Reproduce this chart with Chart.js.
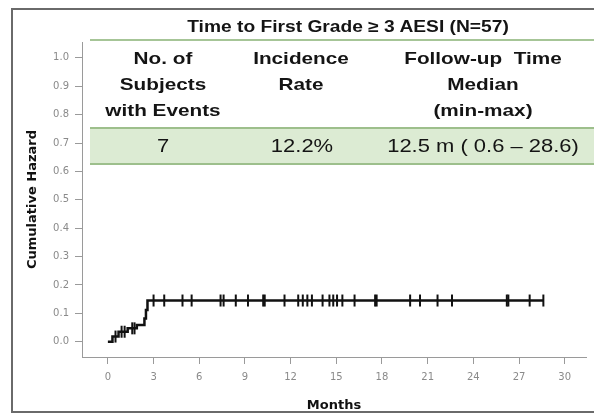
<!DOCTYPE html>
<html>
<head>
<meta charset="utf-8">
<script src="https://cdn.jsdelivr.net/npm/chart.js@4.4.0/dist/chart.umd.min.js"></script>
<style>
  html, body { margin: 0; padding: 0; background: #fff; }
  #wrap { position: relative; width: 594px; height: 414px; overflow: hidden; }
  #frame { position: absolute; left: 11px; top: 8px; width: 600px; height: 405px; box-sizing: border-box; border: 2px solid #6a6a6a; }
  canvas { position: absolute; left: 0; top: 0; }
  .cell { position: absolute; width: 300px; margin-left: -150px; text-align: center; white-space: nowrap;
          font-family: "Liberation Sans", Arial, sans-serif; color: #141414; transform: scaleX(1.22); transform-origin: center; }
  .head { font-weight: bold; font-size: 17px; line-height: 26px; top: 46px; }
  .val { font-size: 18px; line-height: 36px; top: 128px; }
  #title { font-weight: bold; font-size: 16px; line-height: 20px; top: 17px; left: 348px; transform: scaleX(1.2); }
  #topline { position: absolute; left: 90px; top: 39px; width: 510px; height: 2px; background: #a6c597; }
  #band { position: absolute; left: 90px; top: 127px; width: 510px; height: 38px; box-sizing: border-box;
          background: #dcebd3; border-top: 2px solid #9dbf8c; border-bottom: 2px solid #9dbf8c; }
</style>
</head>
<body>
<div id="wrap">
  <canvas id="km" width="594" height="414"></canvas>
  <div id="frame"></div>
  <div id="topline"></div>
  <div id="band"></div>
  <div class="cell" id="title">Time to First Grade ≥ 3 AESI (N=57)</div>
  <div class="cell head" style="left:163px">No. of<br>Subjects<br>with Events</div>
  <div class="cell head" style="left:301px">Incidence<br>Rate</div>
  <div class="cell head" style="left:483px">Follow-up&nbsp; Time<br>Median<br>(min-max)</div>
  <div class="cell val" style="left:163px">7</div>
  <div class="cell val" style="left:302px">12.2%</div>
  <div class="cell val" style="left:483px">12.5 m ( 0.6 – 28.6)</div>
</div>
<script>
// step curve: event times (months) and cumulative hazard after each event
const eventTimes = [0, 0.3, 0.7, 1.3, 1.9, 2.4, 2.5, 2.6];
const hazard = [0, 0.018, 0.035, 0.047, 0.059, 0.082, 0.112, 0.145];
const lastFollowUp = 28.6;

// censored subjects (tick marks on the curve)
const censorTimes = [0.5, 0.9, 1.1, 1.6, 1.75,
    3.0, 3.7, 4.9, 5.5, 7.4, 7.6, 8.4, 9.2, 10.2, 10.3, 11.6,
    12.5, 12.8, 13.1, 13.4, 14.1, 14.55, 14.8, 15.05, 15.4, 16.2,
    17.55, 17.65, 19.85, 20.5, 21.65, 22.6, 26.2, 26.3, 27.7, 28.6];
const censorLevels = [0.018, 0.035, 0.035, 0.047, 0.047,
    0.145, 0.145, 0.145, 0.145, 0.145, 0.145, 0.145, 0.145, 0.145, 0.145, 0.145,
    0.145, 0.145, 0.145, 0.145, 0.145, 0.145, 0.145, 0.145, 0.145, 0.145,
    0.145, 0.145, 0.145, 0.145, 0.145, 0.145, 0.145, 0.145, 0.145, 0.145];

const xTicks = [0, 3, 6, 9, 12, 15, 18, 21, 24, 27, 30];
const yTicks = [0, 0.1, 0.2, 0.3, 0.4, 0.5, 0.6, 0.7, 0.8, 0.9, 1.0];

let curve = eventTimes.map((t, i) => ({ x: t, y: hazard[i] }));
curve.push({ x: lastFollowUp, y: hazard[hazard.length - 1] });
let censored = censorTimes.map((t, i) => ({ x: t, y: censorLevels[i] }));

const axisGray = '#9a9a9a';
const tickFont = { family: 'DejaVu Sans', size: 10 };
const titleFont = { family: 'DejaVu Sans', size: 13, weight: 'bold' };

let chart = new Chart(document.getElementById('km'), {
    type: 'scatter',
    data: {
        datasets: [{
            label: 'Cumulative hazard',
            data: curve,
            showLine: true,
            stepped: true,
            borderColor: '#111',
            borderWidth: 2.5,
            pointRadius: 0,
            fill: false
        }, {
            label: 'Censored',
            data: censored,
            showLine: false,
            pointStyle: 'line',
            rotation: 90,
            pointRadius: 6,
            borderColor: '#111',
            backgroundColor: '#111',
            borderWidth: 2
        }]
    },
    options: {
        responsive: false,
        animation: false,
        layout: { padding: { top: 42, left: 0, right: 0, bottom: 0 } },
        plugins: {
            legend: { display: false },
            tooltip: { enabled: false }
        },
        scales: {
            x: {
                type: 'linear',
                min: -1.7,
                max: 31.4,
                afterBuildTicks: s => { s.ticks = xTicks.map(v => ({ value: v })); },
                afterFit: s => { s.height = 57; },
                grid: { drawOnChartArea: false, drawTicks: true, tickLength: 7, color: axisGray },
                border: { color: axisGray, width: 1 },
                ticks: { color: '#8a8a8a', font: tickFont, padding: 7, maxRotation: 0 },
                title: { display: true, text: 'Months', color: '#111', font: titleFont, padding: { top: 0, bottom: 1 } }
            },
            y: {
                min: -0.054,
                max: 1.056,
                afterBuildTicks: s => { s.ticks = yTicks.map(v => ({ value: v })); },
                afterFit: s => { s.width = 82; },
                grid: { drawOnChartArea: false, drawTicks: true, tickLength: 7, color: axisGray },
                border: { color: axisGray, width: 1 },
                ticks: { color: '#8a8a8a', font: tickFont, padding: 6, callback: v => v.toFixed(1) },
                title: { display: true, text: 'Cumulative Hazard', color: '#111', font: titleFont, padding: { top: 25, bottom: 0 } }
            }
        }
    }
});
</script>
</body>
</html>
